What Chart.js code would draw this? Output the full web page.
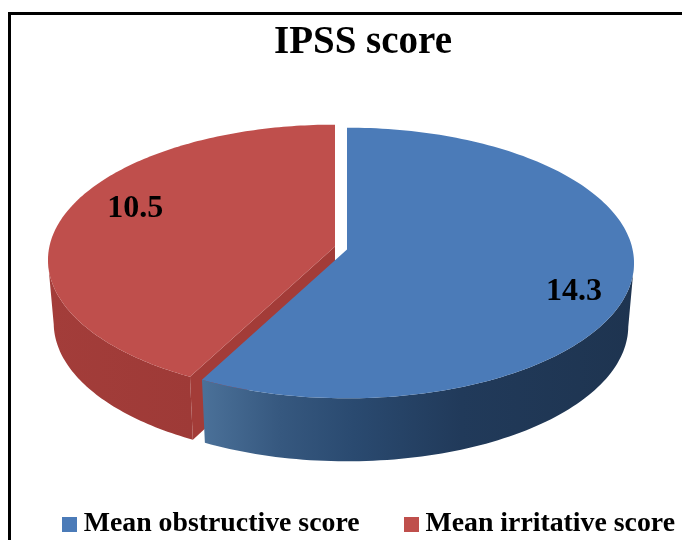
<!DOCTYPE html>
<html>
<head>
<meta charset="utf-8">
<title>IPSS score</title>
<script src="https://cdn.jsdelivr.net/npm/chart.js@4"></script>
<style>
  html, body { margin: 0; padding: 0; background: #fff; }
  #wrap { position: relative; width: 682px; height: 540px; overflow: hidden; filter: blur(0.5px); background: #fff; }
  #frame { position: absolute; left: 8px; top: 12px; right: -5px; bottom: -5px; border: 3px solid #000; }
  canvas { position: absolute; left: 0; top: 0; }
</style>
</head>
<body>
<div id="wrap">
  <!-- bigger than the window on purpose: title and legend sit right of the middle and low -->
  <canvas id="myChart" width="726" height="552"></canvas>
  <div id="frame"></div>
</div>
<script>
const categories = ['Mean obstructive score', 'Mean irritative score'];
const scores = [14.3, 10.5];
const sliceColors = ['#4b7bb8', '#bf4f4c'];

// look of the tilted pie, the values above only decide the angles
const rimX = 285.6, rimY = 134, tilt = -0.0995, depth = 63, baseShrink = 0.98;
const pieShift = { x: -22, y: -18.5 };
const explodeX = [6, -6], explodeY = [1.5, -1.5];
const wallStops = [
  [[0, '#4b7199'], [0.18, '#36587f'], [0.35, '#2a4a70'], [0.6, '#213a5a'], [1, '#1e3450']],
  [[0, '#a33d3a'], [1, '#9e3a37']]
];
const cutColor = '#a33c38';
const labelRadius = [0.83, 0.775];
const labelTurn = 8 * Math.PI / 180;

function apexOf(arc, i) {
  return { x: arc.x + pieShift.x + explodeX[i], y: arc.y + pieShift.y + explodeY[i] };
}

// circle angle -> point on the perspective ellipse
function project(apex, angle, r, base) {
  const u = Math.cos(angle) * r, v = Math.sin(angle) * r;
  const w = 1 + tilt * v;
  return {
    x: apex.x + (base ? baseShrink : 1) * rimX * u / w,
    y: apex.y + rimY * v / w + (base ? depth : 0)
  };
}

function sweep(a0, a1) {
  const out = [];
  const n = 160;
  for (let k = 0; k <= n; k++) out.push(a0 + (a1 - a0) * k / n);
  return out;
}

function fillPath(ctx, pts, fill) {
  ctx.beginPath();
  pts.forEach((p, k) => k ? ctx.lineTo(p.x, p.y) : ctx.moveTo(p.x, p.y));
  ctx.closePath();
  ctx.fillStyle = fill;
  ctx.fill();
}

function drawSlice(ctx, arc, i) {
  const apex = apexOf(arc, i);
  const angles = sweep(arc.startAngle, arc.endAngle);

  // cut face that looks at the viewer
  if (i === 1) {
    fillPath(ctx, [
      project(apex, arc.startAngle, 1), project(apex, arc.startAngle, 0),
      project(apex, arc.startAngle, 0, true), project(apex, arc.startAngle, 1, true)
    ], cutColor);
  }

  // outer wall, starts where the ellipse is widest so the side edge stays straight
  const front = angles.filter(a => Math.sin(a) >= -tilt);
  if (front.length) {
    const top = front.map(a => project(apex, a, 1));
    const bottom = front.map(a => project(apex, a, 1, true)).reverse();
    const xs = top.concat(bottom).map(p => p.x);
    const grad = ctx.createLinearGradient(Math.min(...xs), 0, Math.max(...xs), 0);
    wallStops[i].forEach(s => grad.addColorStop(s[0], s[1]));
    fillPath(ctx, top.concat(bottom), grad);
  }

  // top surface
  fillPath(ctx, [project(apex, 0, 0)].concat(angles.map(a => project(apex, a, 1))), sliceColors[i]);
}

const tiltedPie = {
  id: 'tiltedPie',
  beforeDatasetDraw(chart, args) {
    const ctx = chart.ctx;
    const arcs = chart.getDatasetMeta(args.index).data;
    ctx.save();
    for (let i = arcs.length - 1; i >= 0; i--) drawSlice(ctx, arcs[i], i);
    ctx.restore();
    return false;
  },
  afterDatasetsDraw(chart) {
    const ctx = chart.ctx;
    const arcs = chart.getDatasetMeta(0).data;
    ctx.save();
    ctx.font = 'bold 32px "Liberation Serif"';
    ctx.fillStyle = '#000';
    ctx.textAlign = 'center';
    ctx.textBaseline = 'middle';
    arcs.forEach((arc, i) => {
      const mid = (arc.startAngle + arc.endAngle) / 2 + labelTurn;
      const p = project(apexOf(arc, i), mid, labelRadius[i]);
      ctx.fillText(String(scores[i]), p.x, p.y);
    });
    ctx.restore();
  }
};

function legendSwatch(color) {
  const c = document.createElement('canvas');
  c.width = 15;
  c.height = 15;
  const g = c.getContext('2d');
  g.fillStyle = color;
  g.fillRect(0, 0, 15, 15);
  return c;
}

const data = {
  labels: categories,
  datasets: [{
    data: scores,
    backgroundColor: sliceColors,
    borderWidth: 0,
    clip: false
  }]
};

const config = {
  type: 'pie',
  data: data,
  plugins: [tiltedPie],
  options: {
    responsive: false,
    animation: false,
    layout: { padding: { bottom: 4 } },
    plugins: {
      tooltip: { enabled: false },
      title: {
        display: true,
        text: 'IPSS score',
        color: '#000',
        font: { family: '"Liberation Serif"', size: 39, weight: 'bold' },
        padding: { top: 20, bottom: 7 }
      },
      legend: {
        position: 'bottom',
        align: 'end',
        labels: {
          color: '#000',
          font: { family: '"Liberation Serif"', size: 27.8, weight: 'bold' },
          usePointStyle: true,
          boxWidth: 1,
          boxHeight: 15,
          padding: 51,
          generateLabels(chart) {
            const items = Chart.overrides.doughnut.plugins.legend.labels.generateLabels(chart);
            items.forEach((item, i) => { item.pointStyle = legendSwatch(sliceColors[i]); });
            return items;
          }
        }
      }
    }
  }
};

const myChart = new Chart(document.getElementById('myChart'), config);
</script>
</body>
</html>
